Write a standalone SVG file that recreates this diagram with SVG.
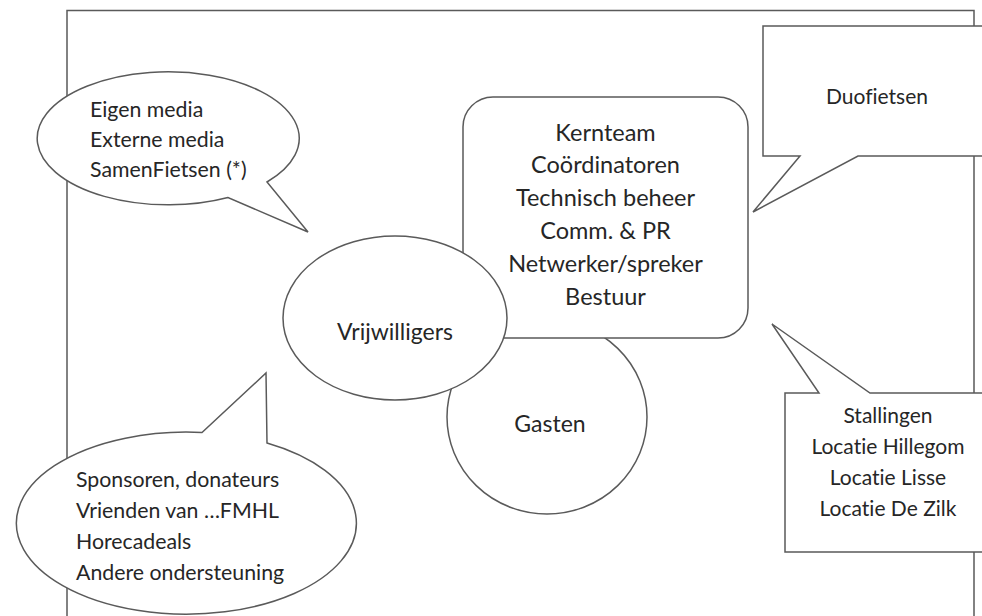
<svg xmlns="http://www.w3.org/2000/svg" width="982" height="616" viewBox="0 0 982 616">
<style>
.s{fill:#fff;stroke:#5a5a5a;stroke-width:1.5}
.t{font-family:Lato,"Open Sans","Liberation Sans",sans-serif;fill:#262626;font-variant-ligatures:none}
.m{font-size:21.3px}
.b{font-size:23.5px;text-anchor:middle}
.v{font-size:23px;text-anchor:middle}
.c{font-size:21px;text-anchor:middle}
</style>
<rect width="982" height="616" fill="#fff"/>
<g id="frame"><path class="s" d="M67,640 V10.5 H974 V640" style="fill:none"/></g>
<g id="connectors"></g>
<g id="gasten">
<ellipse class="s" cx="547" cy="417" rx="100" ry="97"/>
<text class="t v" x="550" y="432">Gasten</text>
</g>
<g id="kernteam">
<rect class="s" x="463" y="97" width="285" height="241" rx="30" ry="30"/>
<text class="t b" x="605.5" y="140.5">Kernteam</text>
<text class="t b" x="605.5" y="173.3">Coördinatoren</text>
<text class="t b" x="605.5" y="206.1">Technisch beheer</text>
<text class="t b" x="605.5" y="238.9">Comm. &amp; PR</text>
<text class="t b" x="605.5" y="271.7">Netwerker/spreker</text>
<text class="t b" x="605.5" y="304.5">Bestuur</text>
</g>
<g id="vrijwilligers">
<ellipse class="s" cx="395" cy="318" rx="112" ry="82"/>
<text class="t v" x="395" y="340">Vrijwilligers</text>
</g>
<g id="media">
<path class="s" d="M267,182 A131,66.5 0 1 0 228,197.5 L308,232 Z"/>
<text class="t m" x="90" y="116.5">Eigen media</text>
<text class="t m" x="90" y="146.5">Externe media</text>
<text class="t m" x="90" y="176.5">SamenFietsen (*)</text>
</g>
<g id="sponsoren">
<path class="s" d="M202,432.5 A170,91 0 1 0 267,443 L266,373 Z"/>
<text class="t m" x="76" y="487">Sponsoren, donateurs</text>
<text class="t m" x="76" y="518">Vrienden van …FMHL</text>
<text class="t m" x="76" y="549">Horecadeals</text>
<text class="t m" x="76" y="580">Andere ondersteuning</text>
</g>
<g id="duofietsen">
<path class="s" d="M1000,26 H763 V156 H800 L753,212 L858,156 H1000"/>
<text class="t c" x="877" y="104">Duofietsen</text>
</g>
<g id="stallingen">
<path class="s" d="M1000,393 H870 L772,324 L819,393 H785 V552 H1000"/>
<text class="t c" x="888" y="422.5">Stallingen</text>
<text class="t c" x="888" y="453.5">Locatie Hillegom</text>
<text class="t c" x="888" y="484.5">Locatie Lisse</text>
<text class="t c" x="888" y="515.5">Locatie De Zilk</text>
</g>
</svg>
